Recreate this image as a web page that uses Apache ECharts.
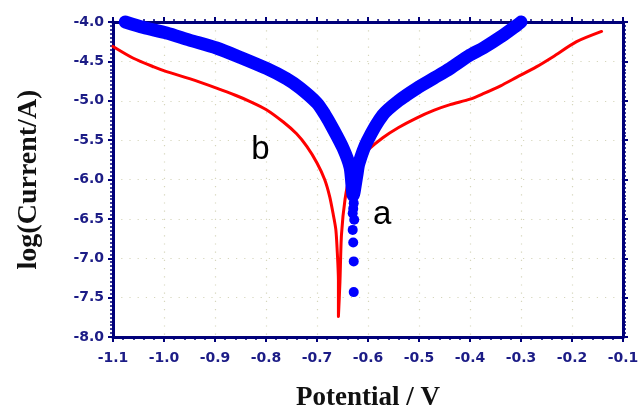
<!DOCTYPE html>
<html><head><meta charset="utf-8">
<script src="https://cdn.jsdelivr.net/npm/echarts@6/dist/echarts.min.js"></script>
<style>html,body{margin:0;padding:0;background:#fff;overflow:hidden;width:639px;height:410px}#c{width:639px;height:410px;overflow:hidden}</style>
</head><body><div id="c"></div>
<script>
// Curve a (blue, dense scatter forming a thick band): [potential V, log(I/A)]
const curveA = [
  [-1.076,-4.00],[-1.04,-4.07],[-0.995,-4.14],[-0.95,-4.23],[-0.897,-4.33],[-0.85,-4.45],
  [-0.799,-4.59],[-0.76,-4.72],[-0.733,-4.84],[-0.70,-5.03],[-0.685,-5.17],[-0.669,-5.35],
  [-0.649,-5.60],[-0.635,-5.85],[-0.629,-6.20],[-0.622,-5.95],[-0.618,-5.80],[-0.602,-5.52],
  [-0.571,-5.18],[-0.54,-5.00],[-0.504,-4.84],[-0.47,-4.71],[-0.439,-4.59],[-0.40,-4.42],
  [-0.374,-4.33],[-0.34,-4.19],[-0.308,-4.04],[-0.30,-4.00]
];
// Curve a: sparse individual points near the corrosion potential
const curveATail = [
  [-0.628,-6.30],[-0.629,-6.37],[-0.630,-6.43],[-0.627,-6.51],[-0.630,-6.64],
  [-0.629,-6.80],[-0.628,-7.04],[-0.628,-7.43]
];
// Curve b (red line)
const curveB = [
  [-1.10,-4.31],[-1.06,-4.46],[-1.02,-4.57],[-0.995,-4.63],[-0.95,-4.72],[-0.897,-4.84],
  [-0.86,-4.93],[-0.831,-5.01],[-0.80,-5.11],[-0.766,-5.27],[-0.74,-5.42],[-0.72,-5.58],
  [-0.70,-5.79],[-0.685,-6.00],[-0.675,-6.22],[-0.668,-6.45],[-0.663,-6.64],[-0.660,-6.95],
  [-0.658,-7.28],[-0.658,-7.74],[-0.655,-7.30],[-0.652,-6.70],[-0.645,-6.25],[-0.635,-5.95],
  [-0.62,-5.76],[-0.603,-5.64],[-0.571,-5.47],[-0.54,-5.34],[-0.505,-5.22],[-0.47,-5.12],
  [-0.439,-5.05],[-0.40,-4.98],[-0.374,-4.91],[-0.34,-4.81],[-0.308,-4.70],[-0.27,-4.57],
  [-0.237,-4.44],[-0.191,-4.25],[-0.142,-4.12]
];
// Curve labels
const curveLabels = [
  {name:'a', value:[-0.572,-6.45]},
  {name:'b', value:[-0.811,-5.63]}
];
const xTicks = {min:-1.1, max:-0.1, step:0.1};
const yTicks = {min:-8.0, max:-4.0, step:0.5};

const navy = '#00007a';
const labelColor = '#1c1c86';
function axisCommon(showLabel, minorSplit, margin){
  return {
    axisLine:{show:true, onZero:false, lineStyle:{color:navy, width:3}},
    axisTick:{show:true, inside:false, length:5, lineStyle:{color:navy, width:2}},
    minorTick:{show:true, splitNumber:minorSplit, length:3, lineStyle:{color:navy, width:1.5}},
    axisLabel:{show:showLabel, color:labelColor, fontFamily:'DejaVu Sans', fontWeight:'bold', fontSize:14, margin:margin,
      formatter:(v)=>v.toFixed(1)},
    splitLine:{show:showLabel, lineStyle:{color:'#d6d6bc', width:1.2, type:[1.2,7]}},
    minorSplitLine:{show:false}
  };
}
const chart = echarts.init(document.getElementById('c'), null, {width:639, height:410});
chart.setOption({
  animation:false,
  backgroundColor:'#ffffff',
  grid:{left:113, top:22, right:16, bottom:73, containLabel:false, outerBoundsMode:'none'},
  xAxis:[
    Object.assign({type:'value', position:'bottom', min:xTicks.min, max:xTicks.max, interval:xTicks.step,
      name:'Potential / V', nameLocation:'middle', nameGap:48,
      nameTextStyle:{color:'#111', fontFamily:'Liberation Serif, Times New Roman', fontWeight:'bold', fontSize:27}},
      axisCommon(true,5,14)),
    Object.assign({type:'value', position:'top', min:xTicks.min, max:xTicks.max, interval:xTicks.step}, axisCommon(false,5,8))
  ],
  yAxis:[
    Object.assign({type:'value', position:'left', min:yTicks.min, max:yTicks.max, interval:yTicks.step,
      name:'log(Current/A)', nameLocation:'middle', nameGap:70, nameRotate:90,
      nameTextStyle:{color:'#111', fontFamily:'Liberation Serif, Times New Roman', fontWeight:'bold', fontSize:28}},
      axisCommon(true,10,9)),
    Object.assign({type:'value', position:'right', min:yTicks.min, max:yTicks.max, interval:yTicks.step}, axisCommon(false,10,8))
  ],
  series:[
    {type:'line', data:curveB, showSymbol:false, symbol:'none', clip:false, smooth:0.25,
      lineStyle:{color:'#ff0000', width:3, cap:'round', join:'round'}, z:2},
    {type:'line', data:curveA, showSymbol:false, symbol:'none', clip:false, smooth:0.25,
      lineStyle:{color:'#0000ff', width:13, cap:'round', join:'round'}, z:3},
    {type:'scatter', data:curveATail, symbol:'circle', symbolSize:10, clip:false,
      itemStyle:{color:'#0000ff', opacity:1}, z:3},
    {type:'scatter', data:curveLabels, symbolSize:0, z:4, itemStyle:{opacity:1},
      label:{show:true, position:'inside', formatter:(p)=>p.name, color:'#000', opacity:1,
        fontFamily:'Liberation Sans, Arial', fontSize:33}}
  ]
});
</script></body></html>
